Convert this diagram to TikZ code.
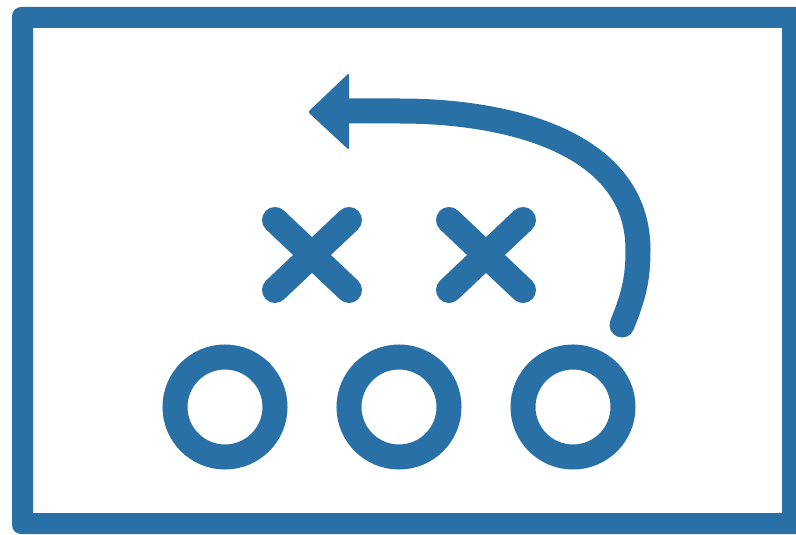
\documentclass[tikz,border=0pt]{standalone}
\usetikzlibrary{arrows.meta}
\definecolor{playblue}{RGB}{40,112,166}

\begin{document}
\begin{tikzpicture}[x=1pt,y=-1pt,
  crossarm/.style={draw=playblue, line width=26pt, line cap=round},
  ring/.style={draw=playblue, line width=25pt}]
  \useasboundingbox (0,0) rectangle (796,535);
  \clip (0,0) rectangle (796,535);
  % board
  \fill[playblue, even odd rule] [rounded corners=9pt] (12,7) rectangle (806,534)
    [sharp corners] (33,28) rectangle (782,513);
  % crosses
  \foreach \cx in {312,486} {
    \draw[crossarm] (\cx-37,220) -- (\cx+37,290);
    \draw[crossarm] (\cx+37,220) -- (\cx-37,290);
  }
  % circles
  \foreach \ox in {225,399,573}
    \draw[ring] (\ox,407) circle (50pt);
  % play arrow
  \draw[playblue, line width=25pt, line cap=round]
    (345,111) -- (400,111) to[out=0,in=90] (638,250) to[out=-90,in=68] (622,325);
  \fill[playblue, rounded corners=2pt] (308,112) -- (349,73) -- (349,150) -- cycle;
\end{tikzpicture}
\end{document}
